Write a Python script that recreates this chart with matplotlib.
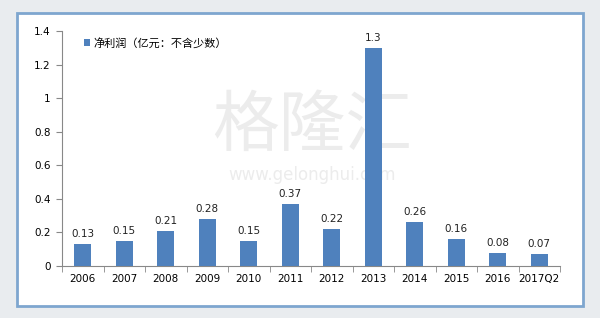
import matplotlib
matplotlib.use("Agg")
import matplotlib.pyplot as plt
from matplotlib.patches import Rectangle

plt.rcParams['font.family'] = ['Noto Sans CJK SC', 'DejaVu Sans']

categories = ["2006", "2007", "2008", "2009", "2010", "2011", "2012", "2013",
              "2014", "2015", "2016", "2017Q2"]
values = [0.13, 0.15, 0.21, 0.28, 0.15, 0.37, 0.22, 1.3, 0.26, 0.16, 0.08, 0.07]
labels = ["0.13", "0.15", "0.21", "0.28", "0.15", "0.37", "0.22", "1.3",
          "0.26", "0.16", "0.08", "0.07"]
yticks = [0, 0.2, 0.4, 0.6, 0.8, 1.0, 1.2, 1.4]
ytick_labels = ["0", "0.2", "0.4", "0.6", "0.8", "1", "1.2", "1.4"]
legend_label = "净利润（亿元：不含少数）"

W, H = 600, 318
fig = plt.figure(figsize=(W/100, H/100), dpi=100)
fig.patch.set_facecolor('#e9ecef')

# white panel with blue border
panel = Rectangle((17/W, 1-306/H), (583-17)/W, (306-13)/H, transform=fig.transFigure,
                  facecolor='white', edgecolor='#7ea6cf', linewidth=2.0, zorder=-5)
fig.patches.append(panel)

ax = fig.add_axes([62/W, 1-266/H, (560-62)/W, (266-31)/H])
ax.set_facecolor('none')
ax.set_zorder(1)
x = list(range(len(categories)))
bars = ax.bar(x, values, width=0.42, color='#4f81bd', zorder=3, label=legend_label)
for xi, v, lab in zip(x, values, labels):
    ax.text(xi, v + 0.03, lab, ha='center', va='bottom', fontsize=7.5, color='#222222',
            family=['DejaVu Sans'], zorder=4)

ax.set_xlim(-0.5, len(categories) - 0.5)
ax.set_ylim(0, 1.4)
ax.set_yticks(yticks)
ax.set_yticklabels(ytick_labels, fontsize=7.5, family=['DejaVu Sans'])
ax.set_xticks(x)
ax.set_xticklabels(categories, fontsize=7.5, family=['DejaVu Sans'])
ax.tick_params(axis='x', length=0, pad=6)
ax.set_xticks([i + 0.5 for i in range(-1, len(categories))], minor=True)
ax.tick_params(axis='x', which='minor', length=4, color='#888888', direction='out')
ax.tick_params(axis='y', length=4, color='#888888', direction='out', pad=4)
for s in ['top', 'right']:
    ax.spines[s].set_visible(False)
ax.spines['left'].set_color('#888888')
ax.spines['bottom'].set_color('#888888')

leg = ax.legend(loc='upper left', bbox_to_anchor=(0.03, 1.0), frameon=False,
                fontsize=8, handlelength=0.6, handleheight=0.6, handletextpad=0.3,
                borderaxespad=0.2)

# watermark (behind bars)
ax.text(0.52, 0.6, "格隆汇", fontsize=48, color='#ececec', ha='center', va='center',
        zorder=1, transform=fig.transFigure)
ax.text(0.52, 0.45, "www.gelonghui.com", fontsize=12, color='#ececec', ha='center',
        va='center', zorder=1, family=['DejaVu Sans'], transform=fig.transFigure)

fig.savefig("out.png", dpi=100, facecolor=fig.get_facecolor())
